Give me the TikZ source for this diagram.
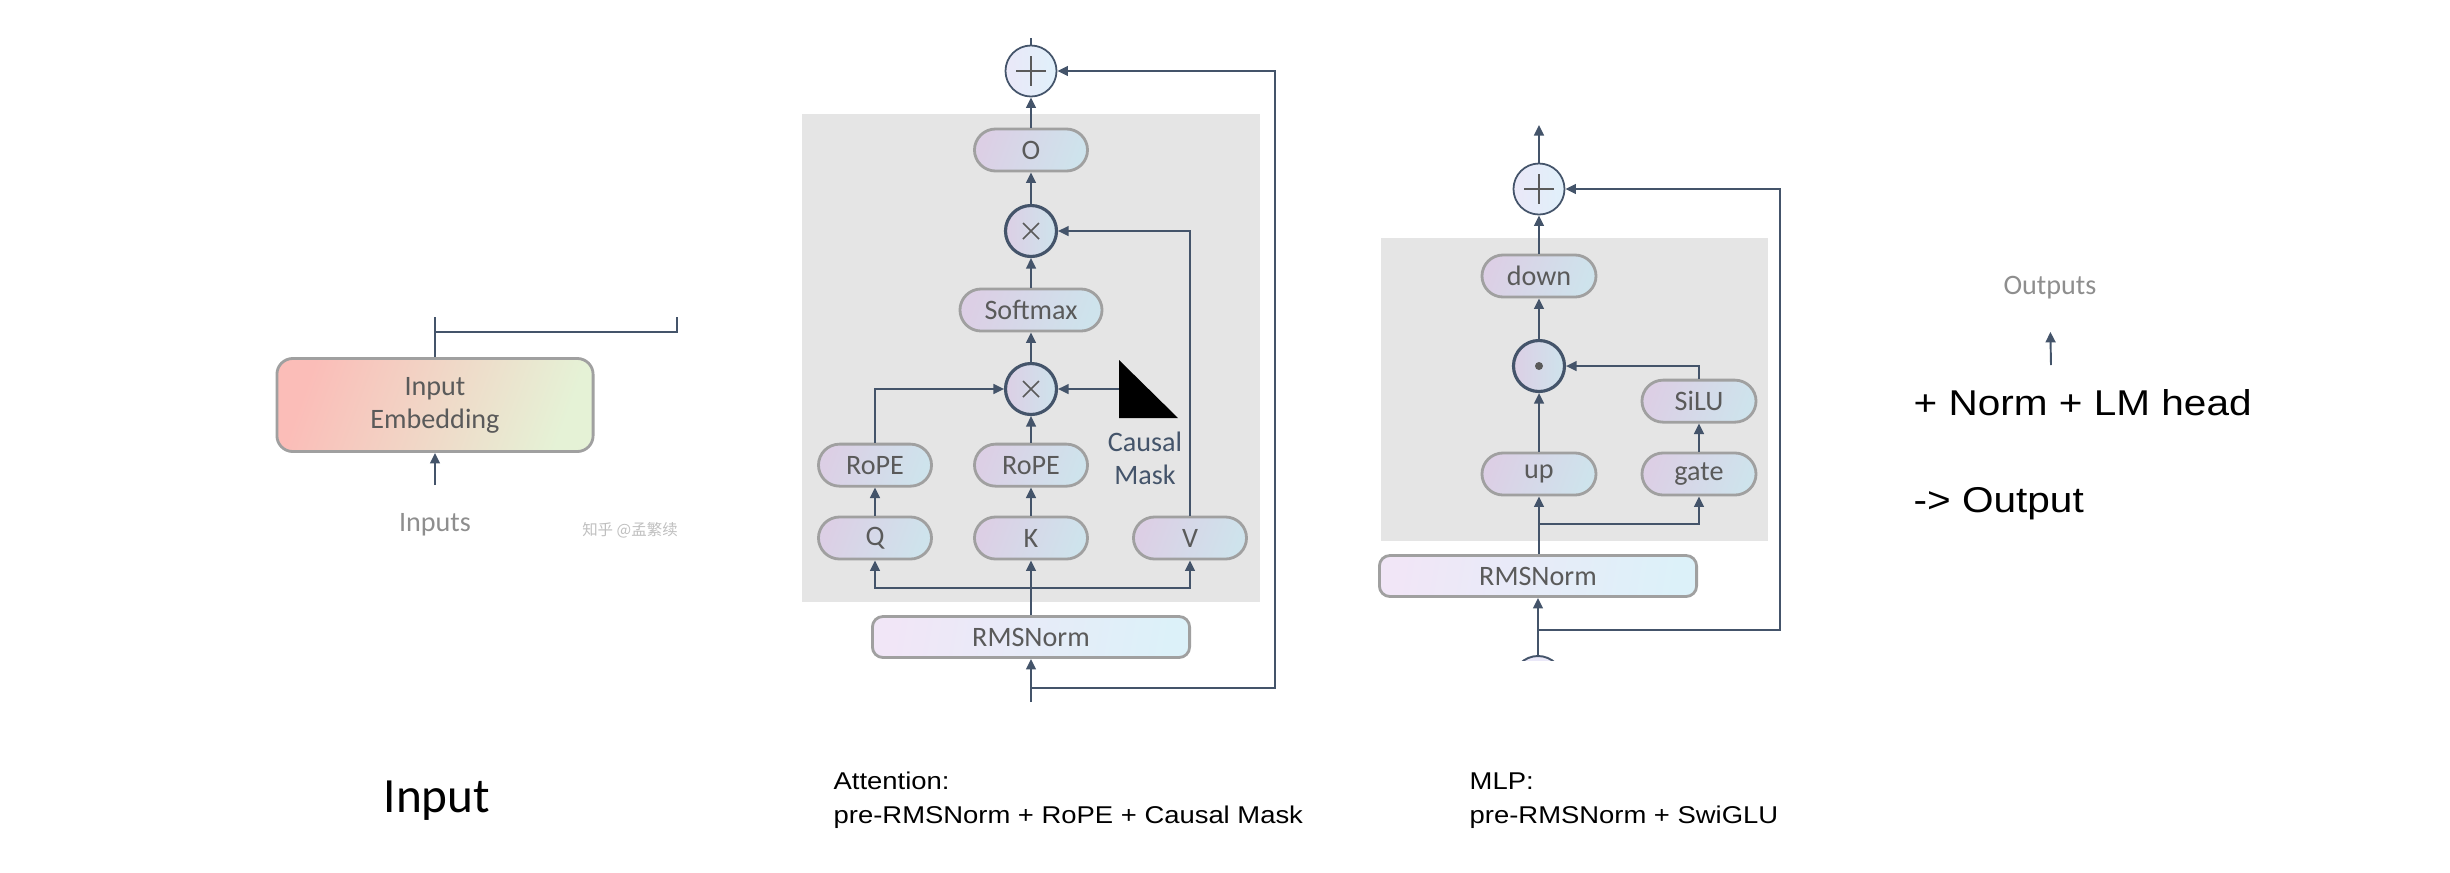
\documentclass[tikz,border=0pt]{standalone}
\usepackage{fontspec}
\setmainfont{Carlito}
\newfontfamily\helvfont[FakeStretch=1.13]{Liberation Sans}
\newfontfamily\cjk{Noto Sans CJK SC}
\usetikzlibrary{arrows.meta,positioning}

\definecolor{lineC}{HTML}{44546A}
\definecolor{boxC}{HTML}{A0A0A0}
\definecolor{txtC}{HTML}{5A5A5A}
\definecolor{faintC}{HTML}{8E8E8E}
\definecolor{panelC}{HTML}{E5E5E5}
\definecolor{pillL}{HTML}{DCCFE5}
\definecolor{pillR}{HTML}{CEE3EC}
\definecolor{normL}{HTML}{F1E6F7}
\definecolor{normR}{HTML}{DCF1F9}
\definecolor{plusL}{HTML}{EAE8F8}
\definecolor{plusR}{HTML}{E0F0FA}
\definecolor{embL}{HTML}{FBBDB8}
\definecolor{embM}{HTML}{F6E2C8}
\definecolor{embR}{HTML}{E5F2D6}

\newcommand{\labfont}{\fontsize{8}{9.4}\selectfont}

\begin{document}
\begin{tikzpicture}[
		x=0.01cm, y=-0.01cm,
		line/.style={draw=lineC, line width=0.55pt},
		arr/.style={line, -{Triangle[length=3pt,width=2.8pt]}},
		pill/.style={draw=boxC, line width=0.8pt, left color=pillL, right color=pillR,
			shading angle=70, rounded corners=6pt, minimum width=#1, minimum height=0.42cm,
			inner sep=0, font=\labfont, text=txtC},
		pill/.default=1.13cm,
		normbox/.style={draw=boxC, line width=0.8pt, left color=normL, right color=normR,
			shading angle=80, rounded corners=3pt, minimum width=#1, minimum height=0.41cm,
			inner sep=0, font=\labfont, text=txtC},
		embed/.style={draw=boxC, line width=0.8pt, left color=embL, middle color=embM,
			right color=embR, shading angle=70, rounded corners=4.5pt, minimum width=3.16cm,
			minimum height=0.93cm, align=center, font=\labfont, text=txtC},
		opplus/.style={circle, draw=lineC, line width=0.5pt, left color=plusL, right color=plusR,
			minimum size=0.51cm, inner sep=0,
			path picture={\draw[txtC, line width=0.5pt]
				(path picture bounding box.center) ++(-15,0) -- ++(30,0)
				(path picture bounding box.center) ++(0,-15) -- ++(0,30);}},
		opmul/.style={circle, draw=lineC, line width=0.9pt, left color=pillL, right color=pillR,
			minimum size=0.51cm, inner sep=0,
			path picture={\draw[txtC, line width=0.45pt]
				(path picture bounding box.center) ++(-8,-8) -- ++(16,16)
				(path picture bounding box.center) ++(-8,8) -- ++(16,-16);}},
		opdot/.style={circle, draw=lineC, line width=0.9pt, left color=pillL, right color=pillR,
			minimum size=0.51cm, inner sep=0,
			path picture={\fill[txtC] (path picture bounding box.center) circle (4);}},
		faint/.style={font=\labfont, text=faintC},
		note/.style={font=\helvfont\fontsize{6.9}{9}\selectfont, inner sep=0, anchor=base west},
		]
		\useasboundingbox (0,0) rectangle (2450,872);
		
		% ── Input ──
		\node[embed] (emb) at (435,405) {Input\\Embedding};
		\node[faint] (inputs) at (435,525) {Inputs};
		\node[font=\cjk\fontsize{4.4}{5}\selectfont, text=black!25] (wmark) at (630,530) {知乎 @孟繁续};
		\coordinate (inTail) at (435,485);
		\coordinate (embUp) at (435,317);
		\coordinate (skipL) at (435,332);
		\coordinate (skipR) at (677,317);
		\draw[arr] (inTail) -- (emb.south);
		\draw[line] (emb.north) -- (embUp);
		\draw[line] (skipL) -| (skipR);
		\node[font=\fontsize{14}{16}\selectfont, inner sep=0, anchor=base west] (inTitle) at (383,812) {Input};
		
		% ── Attention ──
		\fill[panelC] (802,114) rectangle (1260,602);
		\node[opplus] (plusA) at (1031,71) {};
		\node[pill] (o) at (1031,150) {O};
		\node[opmul] (mulB) at (1031,231) {};
		\node[pill=1.42cm] (soft) at (1031,310) {Softmax};
		\node[opmul] (mulA) at (1031,389) {};
		\node[pill] (q) at (875,538) {Q};
		\node[pill] (k) at (1031,538) {K};
		\node[pill] (v) at (1190,538) {V};
		\node[pill, above=0.28cm of q] (ropeQ) {RoPE};
		\node[pill, above=0.28cm of k] (ropeK) {RoPE};
		\node[normbox=3.17cm] (normA) at (1031,637) {RMSNorm};
		\fill[black] (1119,360) -- (1119,418) -- (1178,418) -- cycle;
		\coordinate (maskL) at (1119,389);
		\node[font=\labfont, text=lineC, align=center, inner sep=0] (maskTxt) at (1145,458) {Causal\\Mask};
		
		\coordinate (attnOut) at (1031,38);
		\coordinate (busA) at (1031,588);
		\coordinate (attnIn) at (1031,702);
		\coordinate (resA) at (1031,688);
		\draw[line] (plusA) -- (attnOut);
		\draw[arr] (o) -- (plusA);
		\draw[arr] (mulB) -- (o);
		\draw[arr] (soft) -- (mulB);
		\draw[arr] (mulA) -- (soft);
		\draw[arr] (ropeK) -- (mulA);
		\draw[arr] (ropeQ.north) |- (mulA.west);
		\draw[arr] (maskL) -- (mulA.east);
		\draw[arr] (v.north) |- (mulB.east);
		\draw[arr] (q) -- (ropeQ);
		\draw[arr] (k) -- (ropeK);
		\draw[arr] (normA) -- (k);
		\draw[arr] (busA) -| (q.south);
		\draw[arr] (busA) -| (v.south);
		\draw[arr] (attnIn) -- (normA);
		\draw[arr] (resA) -- ++(244,0) |- (plusA.east);
		\node[note] (attnCap1) at (833,789) {Attention:};
		\node[note] (attnCap2) at (833,823) {pre-RMSNorm + RoPE + Causal Mask};
		
		% ── MLP ──
		\fill[panelC] (1381,238) rectangle (1768,541);
		\node[opplus] (plusB) at (1539,189) {};
		\node[pill=1.14cm] (down) at (1539,276) {down};
		\node[opdot] (dot) at (1539,366) {};
		\node[pill=1.14cm] (up) at (1539,474) {up};
		\node[pill=1.14cm] (gate) at (1699,474) {gate};
		\node[pill=1.14cm, above=0.28cm of gate] (silu) {SiLU};
		\node[normbox=3.17cm] (normB) at (1538,576) {RMSNorm};
		
		\coordinate (mlpOut) at (1539,125);
		\coordinate (busB) at (1539,524);
		\coordinate (mlpIn) at (1538,657);
		\coordinate (resB) at (1538,630);
		\draw[arr] (plusB) -- (mlpOut);
		\draw[arr] (down) -- (plusB);
		\draw[arr] (dot) -- (down);
		\draw[arr] (up) -- (dot);
		\draw[arr] (silu.north) |- (dot.east);
		\draw[arr] (gate) -- (silu);
		\draw[arr] (up.south |- normB.north) -- (up.south);
		\draw[arr] (busB) -| (gate.south);
		\draw[arr] (mlpIn) -- (normB);
		\draw[arr] (resB) -- ++(242,0) |- (plusB.east);
		\begin{scope}
			\clip (1500,640) rectangle (1580,660);
			\draw[line, fill=plusL] (1538,681) circle (25);
		\end{scope}
		\node[note] (mlpCap1) at (1469,789) {MLP:};
		\node[note] (mlpCap2) at (1469,823) {pre-RMSNorm + SwiGLU};
		
		% ── Output ──
		\node[faint] (outs) at (2050,288) {Outputs};
		\coordinate (outTail) at (2051,365);
		\draw[arr, shorten >=0.2cm] (outTail) -- (outs.south);
		\node[note, font=\helvfont\fontsize{10.2}{12}\selectfont] (lmhead) at (1913,415) {+ Norm + LM head};
		\node[note, font=\helvfont\fontsize{10.2}{12}\selectfont] (outTxt) at (1913,512) {-> Output};
	\end{tikzpicture}
\end{document}
